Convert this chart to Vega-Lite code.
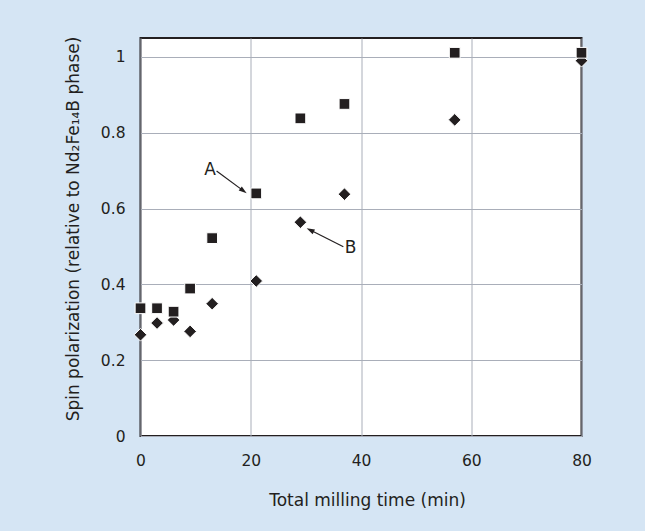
{
  "$schema": "https://vega.github.io/schema/vega-lite/v6.json",
  "width": 441,
  "height": 398,
  "autosize": {"type": "none"},
  "padding": {"left": 140.5, "top": 38, "right": 63.5, "bottom": 95},
  "background": "#d5e5f4",
  "config": {
    "view": {"fill": "white", "stroke": "#231f20", "strokeWidth": 2},
    "font": "DejaVu Sans",
    "axis": {
      "grid": true,
      "gridColor": "#a9aeb9",
      "gridWidth": 1,
      "domain": false,
      "ticks": false,
      "tickSize": 0,
      "labelFlush": false,
      "labelFont": "DejaVu Sans",
      "labelFontSize": 15.5,
      "labelColor": "#231f20",
      "titleFont": "DejaVu Sans",
      "titleFontSize": 17,
      "titleFontWeight": "normal",
      "titleColor": "#231f20"
    }
  },
  "datasets": {
    "points": [
      {"time": 0, "pol": 0.267, "series": "B"},
      {"time": 3, "pol": 0.298, "series": "B"},
      {"time": 6, "pol": 0.306, "series": "B"},
      {"time": 9, "pol": 0.276, "series": "B"},
      {"time": 13, "pol": 0.349, "series": "B"},
      {"time": 21, "pol": 0.409, "series": "B"},
      {"time": 29, "pol": 0.564, "series": "B"},
      {"time": 37, "pol": 0.638, "series": "B"},
      {"time": 57, "pol": 0.834, "series": "B"},
      {"time": 80, "pol": 0.99, "series": "B"},
      {"time": 0, "pol": 0.337, "series": "A"},
      {"time": 3, "pol": 0.337, "series": "A"},
      {"time": 6, "pol": 0.328, "series": "A"},
      {"time": 9, "pol": 0.389, "series": "A"},
      {"time": 13, "pol": 0.522, "series": "A"},
      {"time": 21, "pol": 0.64, "series": "A"},
      {"time": 29, "pol": 0.838, "series": "A"},
      {"time": 37, "pol": 0.876, "series": "A"},
      {"time": 57, "pol": 1.011, "series": "A"},
      {"time": 80, "pol": 1.011, "series": "A"}
    ],
    "notes": [
      {"label": "A", "tx": 12.6, "ty": 0.702, "x1": 13.8, "y1": 0.699, "x2": 18.68, "y2": 0.6467},
      {"label": "B", "tx": 38.1, "ty": 0.495, "x1": 36.8, "y1": 0.4995, "x2": 30.79, "y2": 0.5433}
    ]
  },
  "layer": [
    {
      "data": {"name": "points"},
      "mark": {"type": "point", "filled": true, "color": "#231f20", "stroke": "white", "strokeWidth": 1, "opacity": 1},
      "encoding": {
        "x": {
          "field": "time", "type": "quantitative",
          "scale": {"domain": [0, 80], "nice": false, "zero": false},
          "axis": {
            "values": [0, 20, 40, 60, 80],
            "labelPadding": 17,
            "title": "Total milling time (min)",
            "titleX": 226.5,
            "titleY": 69,
            "titleAlign": "center",
            "titleBaseline": "alphabetic",
            "titleAnchor": null
          }
        },
        "y": {
          "field": "pol", "type": "quantitative",
          "scale": {"domain": [0, 1.05], "nice": false},
          "axis": {
            "values": [0, 0.2, 0.4, 0.6, 0.8, 1],
            "format": "~g",
            "labelPadding": 15.5,
            "title": "Spin polarization (relative to Nd₂Fe₁₄B phase)",
            "titleX": -62.2,
            "titleY": 190.5,
            "titleAngle": 270,
            "titleAlign": "center",
            "titleBaseline": "alphabetic",
            "titleAnchor": null
          }
        },
        "shape": {
          "field": "series", "type": "nominal",
          "scale": {"domain": ["A", "B"], "range": ["square", "diamond"]},
          "legend": null
        },
        "size": {
          "field": "series", "type": "nominal",
          "scale": {"domain": ["A", "B"], "range": [115, 160]},
          "legend": null
        }
      }
    },
    {
      "data": {"name": "notes"},
      "mark": {"type": "rule", "color": "#231f20", "strokeWidth": 1.2},
      "encoding": {
        "x": {"field": "x1", "type": "quantitative"},
        "y": {"field": "y1", "type": "quantitative"},
        "x2": {"field": "x2"},
        "y2": {"field": "y2"}
      }
    },
    {
      "data": {"name": "notes"},
      "transform": [{"filter": "datum.label == 'A'"}],
      "mark": {"type": "point", "shape": "M0,-1L0.65,1L-0.65,1Z", "filled": true, "color": "#231f20", "size": 64, "angle": 126.6, "opacity": 1},
      "encoding": {
        "x": {"field": "x2", "type": "quantitative"},
        "y": {"field": "y2", "type": "quantitative"}
      }
    },
    {
      "data": {"name": "notes"},
      "transform": [{"filter": "datum.label == 'B'"}],
      "mark": {"type": "point", "shape": "M0,-1L0.65,1L-0.65,1Z", "filled": true, "color": "#231f20", "size": 64, "angle": 296.7, "opacity": 1},
      "encoding": {
        "x": {"field": "x2", "type": "quantitative"},
        "y": {"field": "y2", "type": "quantitative"}
      }
    },
    {
      "data": {"name": "notes"},
      "mark": {"type": "text", "fontSize": 17, "color": "#231f20", "font": "DejaVu Sans", "align": "center", "baseline": "middle"},
      "encoding": {
        "x": {"field": "tx", "type": "quantitative"},
        "y": {"field": "ty", "type": "quantitative"},
        "text": {"field": "label"}
      }
    }
  ]
}
